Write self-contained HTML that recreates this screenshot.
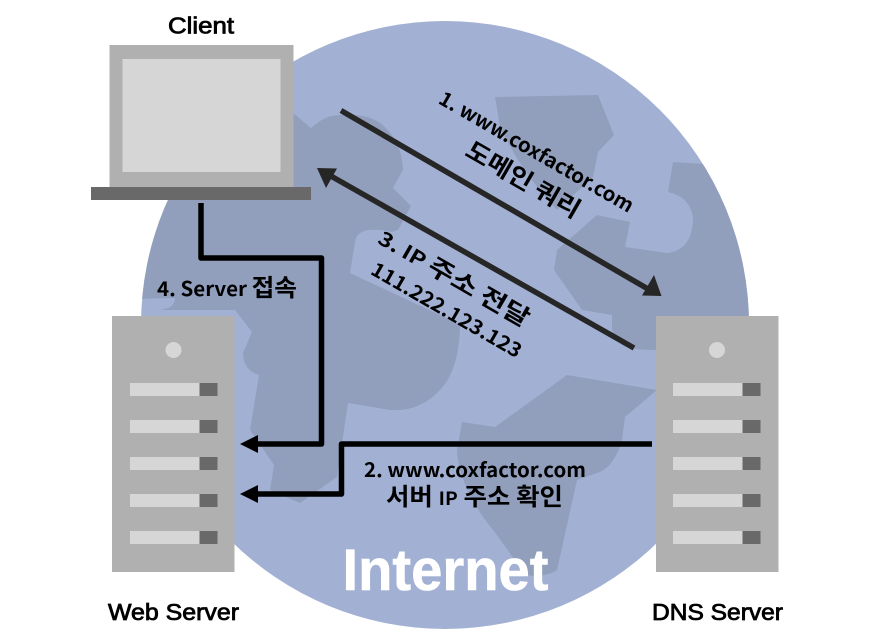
<!DOCTYPE html>
<html><head><meta charset="utf-8">
<style>
html,body{margin:0;padding:0;background:#fff;width:891px;height:641px;overflow:hidden}
svg{display:block}
.k{font-family:"Noto Sans CJK KR","Liberation Sans",sans-serif;font-weight:700;font-size:20px;fill:#000;text-anchor:middle}
.h{font-size:24px}
.l{font-family:"Liberation Sans",sans-serif;font-size:23px;fill:#000;stroke:#000;stroke-width:.8;text-anchor:middle}
</style></head>
<body>
<svg width="891" height="641" viewBox="0 0 891 641" xmlns="http://www.w3.org/2000/svg">
<defs>
<clipPath id="g"><circle cx="445" cy="325" r="304"/></clipPath>
</defs>
<circle cx="445" cy="325" r="304" fill="#a2b1d3"/>
<g clip-path="url(#g)" fill="#919fbd">
<path d="M100 100L293 113L311 128Q325 115 340 115Q365 113 380 123Q402 140 403 170L393 188L411 206L398 230L392 232Q380 229 367 230Q356 233 355 242L350 273L457 323L460 327Q459 370 440 390Q420 412 390 410L348 403L337 477L300 503L270 490L274 465L250 430L259 375Q243 370 243 353L252 332L235 310L160 310Q175 308 175 298L100 300Z"/>
<path d="M495 97L598 95L614 135L598 152L593 177L557 210Q520 170 500 127Z"/>
<path d="M673 162L800 170V360L655 350Q625 350 620 343Q612 335 612 327L612 315L582 310L554 270L557 250L597 215L630 222L625 247L667 253Q693 250 693 217Q690 197 668 192Z"/>
<path d="M567 375L657 390L625 417L622 440Q615 465 600 472L577 480L557 570Q545 578 525 575Q505 545 483 517Q458 480 457 450L462 422L495 427Z"/>
</g>

<!-- laptop -->
<rect x="109.500" y="45" width="184" height="142" fill="#b0b0b0"/>
<rect x="122.500" y="59" width="158" height="113" fill="#d6d6d6"/>
<rect x="91" y="187" width="220" height="13" fill="#696969"/>

<!-- web server -->
<rect x="112" y="316" width="122.500" height="256" fill="#b0b0b0"/>
<circle cx="173.500" cy="350" r="8" fill="#d6d6d6"/>
<g fill="#d6d6d6">
<rect x="130" y="383" width="69.500" height="13"/><rect x="130" y="420" width="69.500" height="13"/><rect x="130" y="457" width="69.500" height="13"/><rect x="130" y="494" width="69.500" height="13"/><rect x="130" y="531" width="69.500" height="13"/>
</g>
<g fill="#696969">
<rect x="199.500" y="383" width="18" height="13"/><rect x="199.500" y="420" width="18" height="13"/><rect x="199.500" y="457" width="18" height="13"/><rect x="199.500" y="494" width="18" height="13"/><rect x="199.500" y="531" width="18" height="13"/>
</g>

<!-- dns server -->
<rect x="656" y="316" width="122.500" height="256" fill="#b0b0b0"/>
<circle cx="717" cy="350" r="8" fill="#d6d6d6"/>
<g fill="#d6d6d6">
<rect x="673" y="383" width="69.500" height="13"/><rect x="673" y="420" width="69.500" height="13"/><rect x="673" y="457" width="69.500" height="13"/><rect x="673" y="494" width="69.500" height="13"/><rect x="673" y="531" width="69.500" height="13"/>
</g>
<g fill="#696969">
<rect x="742.500" y="383" width="18" height="13"/><rect x="742.500" y="420" width="18" height="13"/><rect x="742.500" y="457" width="18" height="13"/><rect x="742.500" y="494" width="18" height="13"/><rect x="742.500" y="531" width="18" height="13"/>
</g>

<!-- connectors -->
<g fill="none" stroke-linejoin="round">
<path d="M341 110.500L648 289" stroke="#262626" stroke-width="5.500"/>
<path d="M634 348L330 175.500" stroke="#262626" stroke-width="5.500"/>
<path d="M201 203V258H321.500V444H256" stroke="#000" stroke-width="5.500"/>
<path d="M652 444H341.500V494H256" stroke="#000" stroke-width="5.500"/>
</g>
<path d="M661.500 296L642 295.500L654 275Z" fill="#262626"/>
<path d="M317 168L337 168.500L326 188Z" fill="#262626"/>
<path d="M240 444L258 435V453Z" fill="#000"/>
<path d="M240 494L258 485V503Z" fill="#000"/>

<!-- labels -->
<text class="l" x="201" y="33.500" textLength="66" lengthAdjust="spacingAndGlyphs">Client</text>
<text class="l" x="173.500" y="620" textLength="131" lengthAdjust="spacingAndGlyphs">Web Server</text>
<text class="l" x="717.500" y="620" textLength="131" lengthAdjust="spacingAndGlyphs">DNS Server</text>

<text class="k" transform="translate(533 158) rotate(30)" textLength="221" lengthAdjust="spacingAndGlyphs">1. www.coxfactor.com</text>
<text class="k h" transform="translate(519 187) rotate(30)" textLength="128" lengthAdjust="spacingAndGlyphs">도메인 쿼리</text>
<text class="k" transform="translate(450 285) rotate(30)" textLength="170" lengthAdjust="spacingAndGlyphs">3. IP <tspan class="h">주소 전달</tspan></text>
<text class="k" transform="translate(443 316) rotate(30)" textLength="170" lengthAdjust="spacingAndGlyphs">111.222.123.123</text>
<text class="k" x="227" y="296" textLength="140" lengthAdjust="spacingAndGlyphs">4. Server <tspan class="h">접속</tspan></text>
<text class="k" x="475" y="477" textLength="222" lengthAdjust="spacingAndGlyphs">2. www.coxfactor.com</text>
<text class="k h" x="474.500" y="505" textLength="177" lengthAdjust="spacingAndGlyphs">서버 <tspan style="font-size:18px">IP</tspan> 주소 확인</text>
<text x="445.500" y="590" text-anchor="middle" textLength="206" lengthAdjust="spacingAndGlyphs" style="font-family:'Liberation Sans',sans-serif;font-weight:700;font-size:58px;fill:#fff;stroke:#fff;stroke-width:.6">Internet</text>
</svg>
</body></html>
